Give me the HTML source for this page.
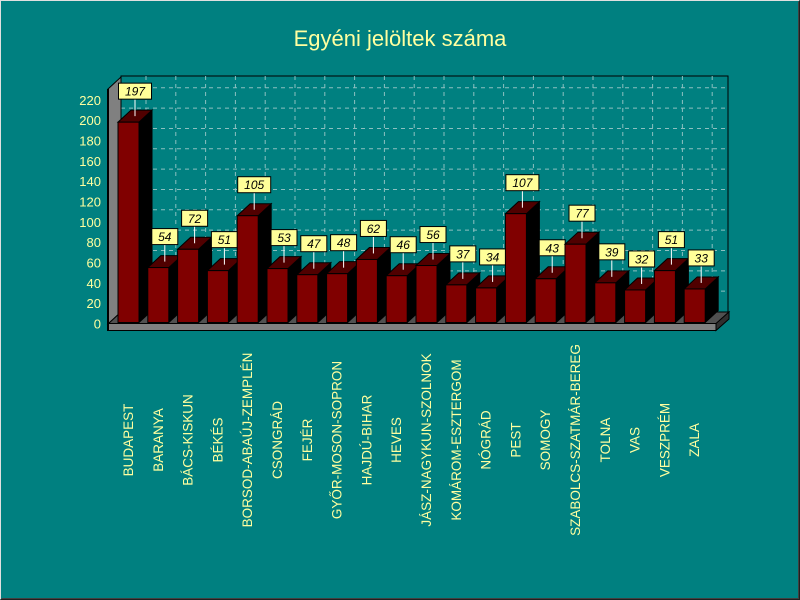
<!DOCTYPE html>
<html><head><meta charset="utf-8"><style>
html,body{margin:0;padding:0;background:#008080;}
svg{display:block;font-family:"Liberation Sans",sans-serif;}
</style></head><body>
<svg width="800" height="600" viewBox="0 0 800 600" xmlns="http://www.w3.org/2000/svg">
<rect x="0" y="0" width="800" height="600" fill="#008080"/>
<path d="M0.5 599.5V0.5H799.5" stroke="#e0e0e0" fill="none"/>
<path d="M1.5 598.5H798.5V1.5" stroke="#404040" fill="none"/>
<path d="M0.5 599.5H799.5V0.5" stroke="#202020" fill="none"/>
<text x="400" y="46" font-size="22" fill="#ffffa0" text-anchor="middle">Egyéni jelöltek száma</text>
<g id="c"></g>
</svg>
<script>
const NS="http://www.w3.org/2000/svg";const g=document.getElementById('c');
function el(t,a,txt){const e=document.createElementNS(NS,t);for(const k in a)e.setAttribute(k,a[k]);if(txt!==undefined)e.textContent=txt;g.appendChild(e);return e;}
const B=323.5,S=1.017,DX=13,DY=12;
el('rect',{x:121,y:76,width:607,height:236,fill:'#008080',stroke:'#000'});
for(let v=20;v<=220;v+=20){const y=B-DY-S*v;el('line',{x1:121,x2:728,y1:y,y2:y,stroke:'#8cc0c0','stroke-dasharray':'4,4'});}
const vals=[197,54,72,51,105,53,47,48,62,46,56,37,34,107,43,77,39,32,51,33];
const cats=["BUDAPEST","BARANYA","BÁCS-KISKUN","BÉKÉS","BORSOD-ABAÚJ-ZEMPLÉN","CSONGRÁD","FEJÉR","GYŐR-MOSON-SOPRON","HAJDÚ-BIHAR","HEVES","JÁSZ-NAGYKUN-SZOLNOK","KOMÁROM-ESZTERGOM","NÓGRÁD","PEST","SOMOGY","SZABOLCS-SZATMÁR-BEREG","TOLNA","VAS","VESZPRÉM","ZALA"];
for(let i=0;i<vals.length;i++){const x=121+DX+29.8*i+12;el('line',{x1:x,x2:x,y1:76,y2:312,stroke:'#8cc0c0','stroke-dasharray':'4,4'});}
el('polygon',{points:'108,89 121,77 121,312 108,324',fill:'#808080',stroke:'#000'});
el('polygon',{points:'108,324 121,312 729,312 716,324',fill:'#505050',stroke:'#000'});
el('rect',{x:108,y:323.5,width:608,height:7,fill:'#808080',stroke:'#000'});
el('polygon',{points:'716,323.5 729,312 729,319 716,330.5',fill:'#303030',stroke:'#000'});
el('line',{x1:108,x2:108,y1:89,y2:331,stroke:'#000','stroke-width':2});
for(let v=0;v<=220;v+=20){el('text',{x:101,y:B-S*v+5,'font-size':13,fill:'#ffffa0','text-anchor':'end'},String(v));}
for(let i=0;i<vals.length;i++){const v=vals[i];const x=118+29.8*i,w=21,h=S*v,t=B-1-h,b=B-1;
el('polygon',{points:`${x+w},${t} ${x+w+DX},${t-DY} ${x+w+DX},${b-DY} ${x+w},${b}`,fill:'#000',stroke:'#000'});
el('polygon',{points:`${x},${t} ${x+DX},${t-DY} ${x+w+DX},${t-DY} ${x+w},${t}`,fill:'#500000',stroke:'#000'});
el('rect',{x:x,y:t,width:w,height:h,fill:'#800000',stroke:'#000'});
const cx=x+w/2+DX/2,my=t-DY/2;const bw=v>=100?33:26;const by=my-33;
el('line',{x1:cx,x2:cx,y1:by+16,y2:my,stroke:'#fff'});
el('rect',{x:cx-bw/2,y:by,width:bw,height:16,fill:'#ffff99',stroke:'#000'});
el('text',{x:cx,y:by+12.5,'font-size':12,'font-style':'italic','text-anchor':'middle',fill:'#000'},String(v));
const lx=x+w/2+4.5;el('text',{x:0,y:0,'font-size':13.5,fill:'#ffffa0','text-anchor':'middle',transform:`translate(${lx},440) rotate(-90)`},cats[i]);
}
</script>
</body></html>
